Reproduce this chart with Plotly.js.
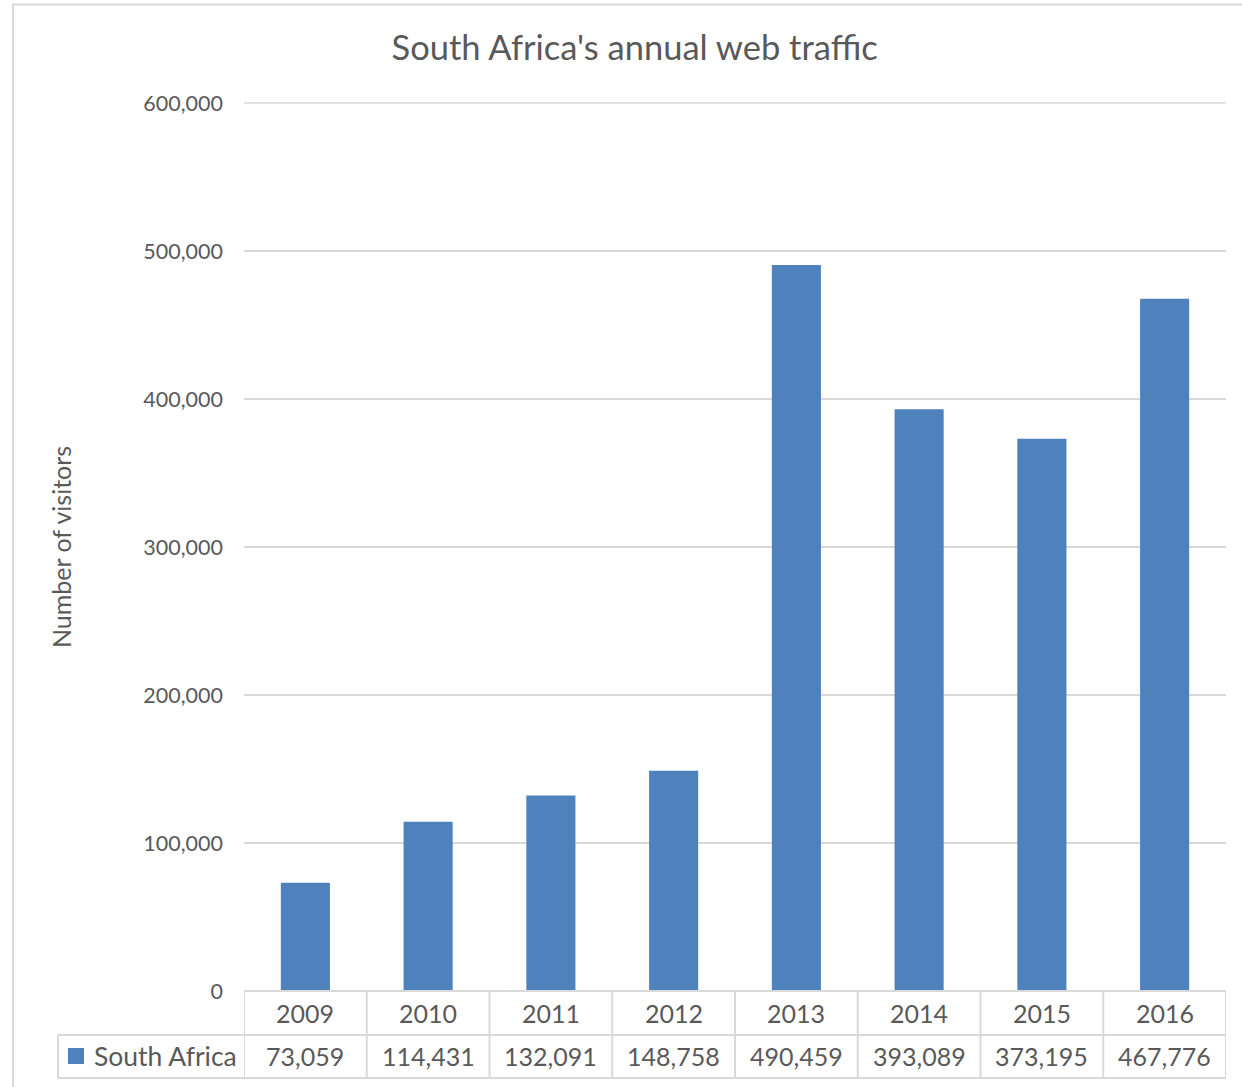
<!DOCTYPE html>
<html>
<head>
<meta charset="utf-8">
<script src="https://cdn.plot.ly/plotly-3.0.1.min.js"></script>
<style>html,body{margin:0;padding:0;background:#fff;}#chart{width:1242px;height:1087px;}</style>
</head>
<body>
<div id="chart"></div>
<script>
const years = ["2009", "2010", "2011", "2012", "2013", "2014", "2015", "2016"];
const visitors = [73059, 114431, 132091, 148758, 490459, 393089, 373195, 467776];
const seriesName = "South Africa";
const chartTitle = "South Africa's annual web traffic";
const yTitle = "Number of visitors";

const FONT = "Lato, Carlito, Calibri, 'Open Sans', sans-serif";
const TXT = "#595959";
const GRID = "#D9D9D9";
const BAR = "#4F81BD";

const rowMid = -0.0495, rowBot = -0.098;
const shapes = [];
// outer chart border
shapes.push({type: 'rect', xref: 'paper', yref: 'paper', x0: -0.2352, x1: 1.08, y0: -0.15, y1: 1.1109,
  line: {color: GRID, width: 2}, fillcolor: 'rgba(0,0,0,0)', layer: 'below'});
// top gridline (600,000)
shapes.push({type: 'line', xref: 'paper', yref: 'paper', x0: 0, x1: 1, y0: 1, y1: 1, line: {color: GRID, width: 1.5}, layer: 'below'});
// table horizontal lines
shapes.push({type: 'line', xref: 'paper', yref: 'paper', x0: 0, x1: 1, y0: 0, y1: 0, line: {color: GRID, width: 2}});
shapes.push({type: 'line', xref: 'paper', yref: 'paper', x0: -0.1894, x1: 1, y0: rowMid, y1: rowMid, line: {color: GRID, width: 2}});
shapes.push({type: 'line', xref: 'paper', yref: 'paper', x0: -0.1894, x1: 1, y0: rowBot, y1: rowBot, line: {color: GRID, width: 2}});
shapes.push({type: 'line', xref: 'paper', yref: 'paper', x0: -0.1894, x1: -0.1894, y0: rowMid, y1: rowBot, line: {color: GRID, width: 2}});
// vertical cell borders at category boundaries
for (let i = 0; i <= years.length; i++) {
  shapes.push({type: 'line', xref: 'x', yref: 'paper', x0: i - 0.5, x1: i - 0.5, y0: 0, y1: rowBot, line: {color: GRID, width: 2}});
}
// legend key
shapes.push({type: 'rect', xref: 'paper', yref: 'paper', x0: -0.1792, x1: -0.1629, y0: -0.0642, y1: -0.0822,
  line: {width: 0}, fillcolor: BAR});

const annotations = [];
years.forEach((yr, i) => {
  annotations.push({x: i, xref: 'x', y: -0.0248, yref: 'paper', text: yr, showarrow: false,
    xanchor: 'center', yanchor: 'middle', font: {family: FONT, size: 25, color: TXT}});
  annotations.push({x: i, xref: 'x', y: -0.0735, yref: 'paper', text: visitors[i].toLocaleString('en-US'), showarrow: false,
    xanchor: 'center', yanchor: 'middle', font: {family: FONT, size: 25, color: TXT}});
});
annotations.push({x: -0.1548, xref: 'paper', y: -0.0735, yref: 'paper', text: seriesName, showarrow: false,
  xanchor: 'left', yanchor: 'middle', font: {family: FONT, size: 26.5, color: TXT}});

const trace = {
  type: 'bar', x: years, y: visitors, name: seriesName,
  marker: {color: BAR, line: {width: 0}}, width: 0.4, hoverinfo: 'x+y'
};

const layout = {
  width: 1242, height: 1087,
  margin: {l: 244, r: 16, t: 103, b: 96, pad: 0},
  paper_bgcolor: '#fff', plot_bgcolor: '#fff',
  showlegend: false,
  title: {text: chartTitle, xref: 'container', yref: 'container', x: 0.511, y: 0.956, xanchor: 'center', yanchor: 'middle',
    font: {family: FONT, size: 34.5, color: TXT}},
  xaxis: {type: 'category', showticklabels: false, showgrid: false, zeroline: false, showline: false, ticks: '',
    range: [-0.5, years.length - 0.5], fixedrange: true},
  yaxis: {range: [0, 600000], dtick: 100000, tick0: 0, tickformat: ',', showgrid: true, gridcolor: GRID, gridwidth: 1.5,
    zeroline: false, showline: false, ticks: '', ticklabelstandoff: 20,
    tickfont: {family: FONT, size: 21.5, color: TXT},
    title: {text: yTitle, standoff: 64, font: {family: FONT, size: 25, color: TXT}}, fixedrange: true},
  shapes: shapes,
  annotations: annotations
};

Plotly.newPlot('chart', [trace], layout, {displayModeBar: false, staticPlot: true});
</script>
</body>
</html>
